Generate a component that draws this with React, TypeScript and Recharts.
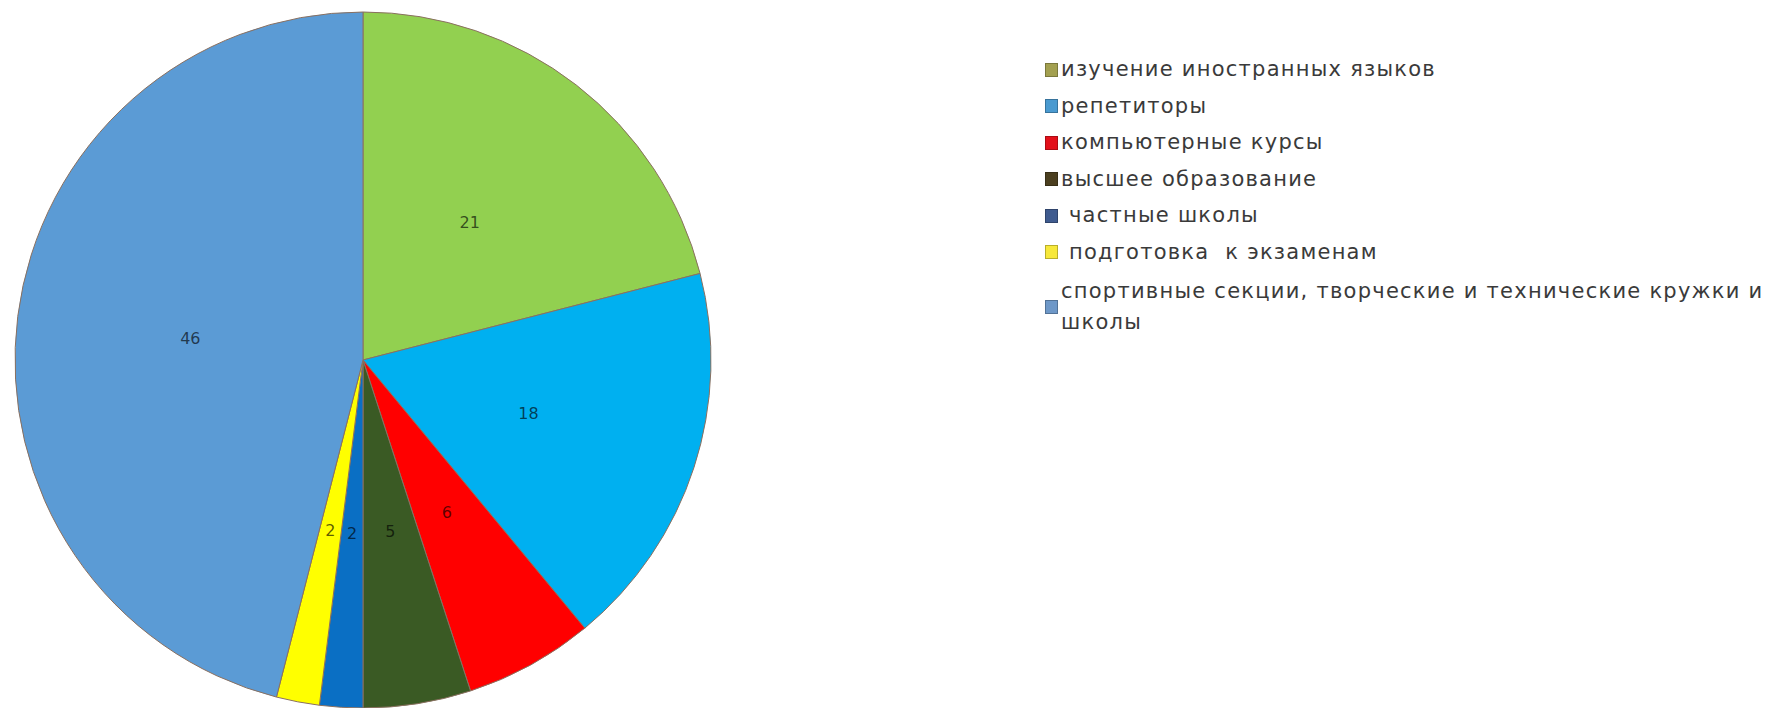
import React from 'react';
import { PieChart, Pie, Cell } from 'recharts';

const categories = [
  'изучение иностранных языков',
  'репетиторы',
  'компьютерные курсы',
  'высшее образование',
  ' частные школы',
  ' подготовка  к экзаменам',
  'спортивные секции, творческие и технические кружки и школы',
];
const values = [21, 18, 6, 5, 2, 2, 46];
const sliceColors = ['#92D050', '#00B0F0', '#FF0000', '#3A5A24', '#0A6FC4', '#FFFF00', '#5B9BD5'];
const legendColors = ['#A3A050', '#4A9AD0', '#E3101A', '#4B3F1F', '#3F5B8F', '#F7E83A', '#6E98C8'];

const data = categories.map((name, i) => ({ name, value: values[i] }));

const RADIAN = Math.PI / 180;

const renderLabel = (props: any) => {
  const { cx, cy, midAngle, outerRadius, value } = props;
  const r = outerRadius * 0.5;
  const x = cx + r * Math.cos(-midAngle * RADIAN);
  const y = cy + r * Math.sin(-midAngle * RADIAN);
  return (
    <text
      x={x}
      y={y}
      textAnchor="middle"
      dominantBaseline="central"
      fontFamily="DejaVu Sans"
      fontSize={16}
      fill="#000"
      fillOpacity={0.65}
    >
      {value}
    </text>
  );
};

const LegendBlock = () => (
  <div
    style={{
      position: 'absolute',
      left: 1037,
      top: 46,
      width: 735,
      fontFamily: 'DejaVu Sans',
      fontSize: 21,
      letterSpacing: 1.25,
      color: '#3a3a3a',
    }}
  >
    {categories.map((name, i) => (
      <div
        key={name}
        style={{
          display: 'flex',
          alignItems: 'center',
          marginBottom: 5.5,
          marginTop: i === categories.length - 1 ? 8 : 0,
        }}
      >
        <div
          style={{
            width: 13,
            height: 14,
            background: legendColors[i],
            border: '1px solid rgba(0,0,0,0.25)',
            boxSizing: 'border-box',
            flex: '0 0 auto',
            marginRight: 3,
          }}
        />
        <div style={{ lineHeight: '31px', whiteSpace: 'pre-wrap', width: 718 }}>{name}</div>
      </div>
    ))}
  </div>
);

export default function App() {
  return (
    <div style={{ position: 'relative', width: 1764, height: 700 }}>
      <PieChart width={1764} height={700} margin={{ top: 0, right: 0, bottom: 0, left: 0 }}>
        <Pie
          data={data}
          dataKey="value"
          nameKey="name"
          cx={355}
          cy={352}
          outerRadius={348}
          startAngle={90}
          endAngle={-270}
          stroke="#8a7060"
          strokeWidth={1}
          label={renderLabel}
          labelLine={false}
          isAnimationActive={false}
        >
          {data.map((d, i) => (
            <Cell key={d.name} fill={sliceColors[i]} />
          ))}
        </Pie>
      </PieChart>
      <LegendBlock />
    </div>
  );
}
